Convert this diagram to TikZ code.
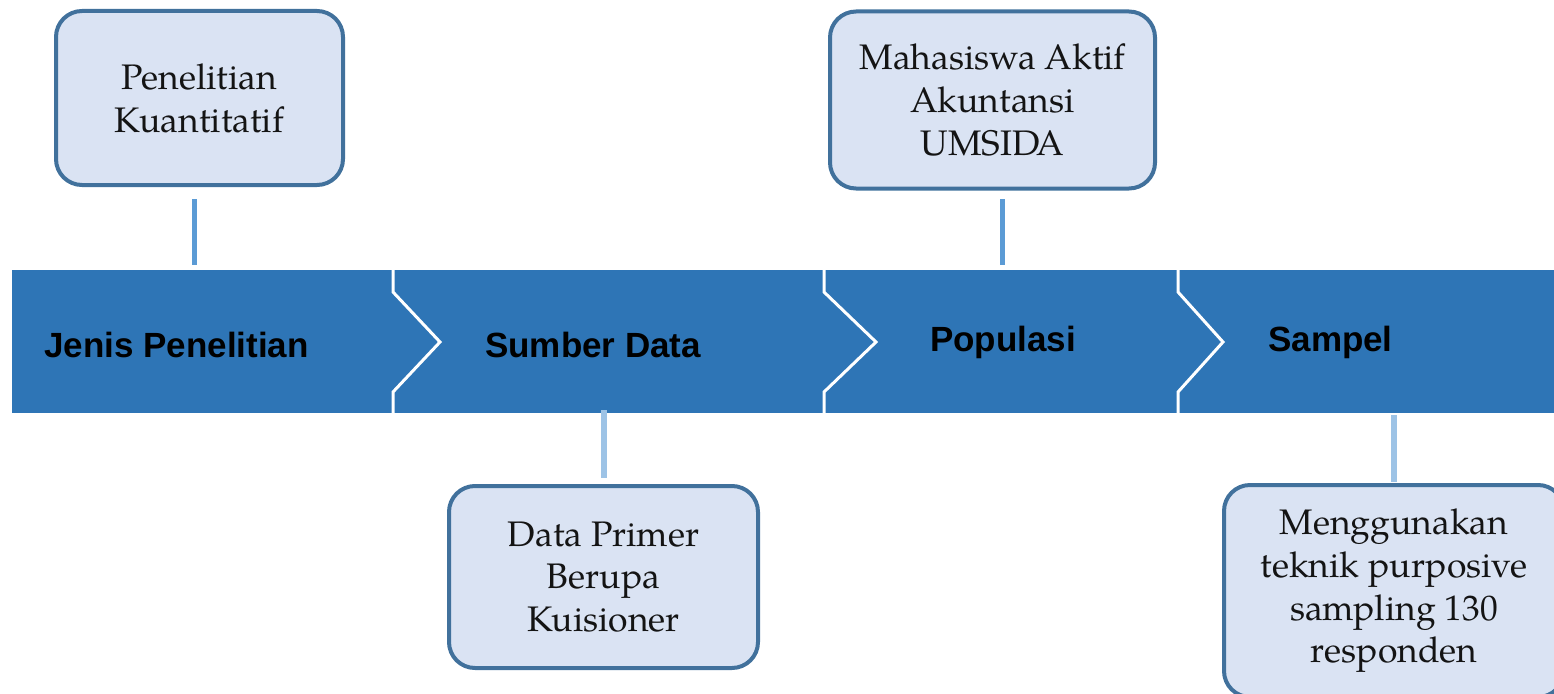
\documentclass[tikz,border=0pt]{standalone}
\usepackage{fontspec}
\setmainfont{texgyrepagella}[Extension=.otf,UprightFont=*-regular,BoldFont=*-bold,ItalicFont=*-italic,BoldItalicFont=*-bolditalic]
\newfontfamily\bandfont{Liberation Sans}
\definecolor{bandblue}{HTML}{2E75B6}
\definecolor{boxfill}{HTML}{DAE3F3}
\definecolor{boxline}{HTML}{41719C}
\definecolor{linkdark}{HTML}{5B9BD5}
\definecolor{linklight}{HTML}{9DC3E6}
\definecolor{boxtext}{HTML}{141414}
\tikzset{
  infobox/.style={draw=boxline, fill=boxfill, line width=4pt, rounded corners=26pt,
    align=center, text=boxtext, inner sep=0pt,
    font={\fontsize{35.5}{42.7}\selectfont}},
  bandlabel/.style={font={\bandfont\bfseries\fontsize{35}{40}\selectfont}, text=black, inner sep=0pt, anchor=base west},
  sepline/.style={draw=white, line width=3pt},
  linkup/.style={draw=linkdark, line width=5pt},
  linkdown/.style={draw=linklight, line width=6pt}
}
\begin{document}
\begin{tikzpicture}[x=1pt,y=-1pt]
\useasboundingbox (0,0) rectangle (1554,693);
\clip (0,0) rectangle (1554,693);
% band
\fill[bandblue] (12,270) rectangle (1554,413);
\draw[sepline] (393,270) -- (393,292) -- (440,342) -- (393,392) -- (393,413);
\draw[sepline] (824,270) -- (824,292) -- (876,342) -- (824,392) -- (824,413);
\draw[sepline] (1178,270) -- (1178,292) -- (1223,342) -- (1178,392) -- (1178,413);
% band labels
\node[bandlabel] (jenis) at (44,357) {Jenis Penelitian};
\node[bandlabel] (sumber) at (485,357) {Sumber Data};
\node[bandlabel] (populasi) at (930,351) {Populasi};
\node[bandlabel] (sampel) at (1268,351) {Sampel};
% boxes
\node[infobox, minimum width=287pt, minimum height=174pt] (b1) at (199.5,98) {Penelitian\\Kuantitatif};
\node[infobox, minimum width=309pt, minimum height=182pt] (b2) at (603.5,577) {Data Primer\\Berupa\\Kuisioner};
\node[infobox, minimum width=325pt, minimum height=177pt] (b3) at (992.5,100) {Mahasiswa Aktif\\Akuntansi\\UMSIDA};
\node[infobox, minimum width=340pt, minimum height=212pt] (b4) at (1394,591) {Menggunakan\\teknik purposive\\sampling 130\\responden};
% connectors
\coordinate (c1a) at (194,199); \coordinate (c1b) at (194,265);
\coordinate (c2a) at (604,410); \coordinate (c2b) at (604,478);
\coordinate (c3a) at (1002,199); \coordinate (c3b) at (1002,265);
\coordinate (c4a) at (1394,415); \coordinate (c4b) at (1394,482);
\draw[linkup] (c1a) -- (c1b);
\draw[linkdown] (c2a) -- (c2b);
\draw[linkup] (c3a) -- (c3b);
\draw[linkdown] (c4a) -- (c4b);
\end{tikzpicture}
\end{document}
